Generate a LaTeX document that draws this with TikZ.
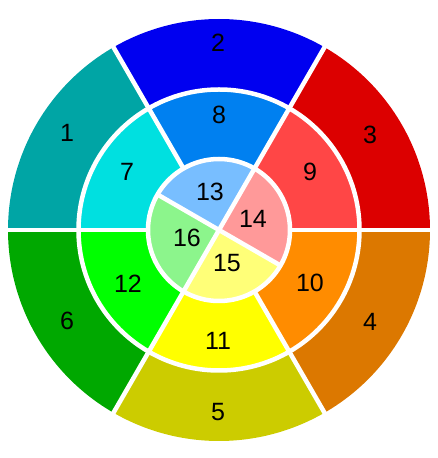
\documentclass[tikz,border=0pt]{standalone}
\usepackage{fontspec}
\setmainfont{Liberation Sans}
\definecolor{c1}{RGB}{0,165,165}
\definecolor{c2}{RGB}{0,0,240}
\definecolor{c3}{RGB}{220,0,0}
\definecolor{c4}{RGB}{220,120,0}
\definecolor{c5}{RGB}{204,204,0}
\definecolor{c6}{RGB}{0,168,0}
\definecolor{c7}{RGB}{0,224,224}
\definecolor{c8}{RGB}{0,128,240}
\definecolor{c9}{RGB}{255,70,70}
\definecolor{c10}{RGB}{255,140,0}
\definecolor{c11}{RGB}{255,255,0}
\definecolor{c12}{RGB}{0,255,0}
\definecolor{c13}{RGB}{120,190,255}
\definecolor{c14}{RGB}{255,153,153}
\definecolor{c15}{RGB}{255,255,120}
\definecolor{c16}{RGB}{140,245,140}
\newcommand{\annsec}[5]{% color, a1, a2, r1, r2
  \fill[#1] (#2:#4) arc[start angle=#2,end angle=#3,radius=#4] -- (#3:#5) arc[start angle=#3,end angle=#2,radius=#5] -- cycle;}
\tikzset{lbl/.style={font=\fontsize{25}{25}\selectfont, text=black, inner sep=0pt},
  gap/.style={draw=white, line width=4.5pt}}
\begin{document}
\begin{tikzpicture}[x=1pt,y=1pt]
\useasboundingbox (0,0) rectangle (437,458);
\begin{scope}[shift={(219,228)}]
% outer ring
\annsec{c3}{0}{60}{140}{211}
\annsec{c2}{60}{120}{140}{211}
\annsec{c1}{120}{180}{140}{211}
\annsec{c6}{180}{240}{140}{211}
\annsec{c5}{240}{300}{140}{211}
\annsec{c4}{300}{360}{140}{211}
% middle ring
\annsec{c9}{0}{60}{71}{140}
\annsec{c8}{60}{120}{71}{140}
\annsec{c7}{120}{180}{71}{140}
\annsec{c12}{180}{240}{71}{140}
\annsec{c11}{240}{300}{71}{140}
\annsec{c10}{300}{360}{71}{140}
% inner disc
\fill[c13] (0,0) -- (60:71) arc[start angle=60,end angle=150,radius=71] -- cycle;
\fill[c16] (0,0) -- (150:71) arc[start angle=150,end angle=240,radius=71] -- cycle;
\fill[c15] (0,0) -- (240:71) arc[start angle=240,end angle=330,radius=71] -- cycle;
\fill[c14] (0,0) -- (330:71) arc[start angle=330,end angle=420,radius=71] -- cycle;
% gaps
\foreach \a in {0,60,...,300} \draw[gap] (\a:71) -- (\a:214);
\foreach \a in {60,150,240,330} \draw[gap] (0,0) -- (\a:72);
\draw[gap] (0,0) circle[radius=71];
\draw[gap] (0,0) circle[radius=140.5];
\end{scope}
% labels
\node[lbl] (s1) at (67,325) {1};
\node[lbl] (s2) at (218,415) {2};
\node[lbl] (s3) at (370,323) {3};
\node[lbl] (s4) at (370,136) {4};
\node[lbl] (s5) at (218,46) {5};
\node[lbl] (s6) at (67,137) {6};
\node[lbl] (s7) at (127,286) {7};
\node[lbl] (s8) at (219,343) {8};
\node[lbl] (s9) at (310,286) {9};
\node[lbl] (s10) at (310,175) {10};
\node[lbl] (s11) at (218,117) {11};
\node[lbl] (s12) at (128,174) {12};
\node[lbl] (s13) at (210,266) {13};
\node[lbl] (s14) at (253,239) {14};
\node[lbl] (s15) at (227,195) {15};
\node[lbl] (s16) at (187,220) {16};
\end{tikzpicture}
\end{document}
